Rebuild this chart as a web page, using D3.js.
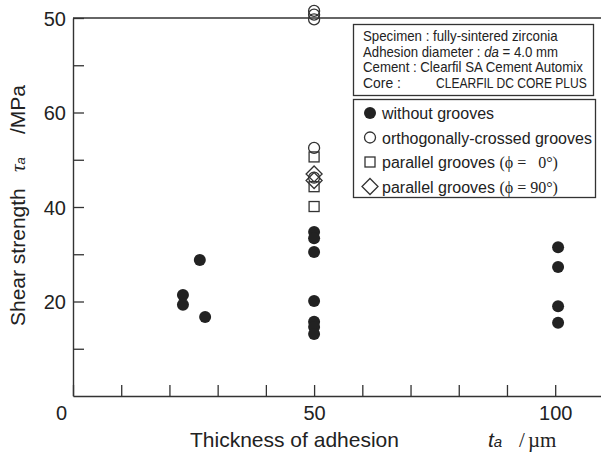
<!DOCTYPE html>
<html>
<head>
<meta charset="utf-8">
<script src="https://cdn.jsdelivr.net/npm/d3@7"></script>
<style>
  body { margin: 0; background: #fff; }
  svg { display: block; }
  .sans { font-family: "Liberation Sans", Arial, sans-serif; }
  .serif { font-family: "Liberation Serif", "Times New Roman", serif; }
</style>
</head>
<body>
<svg width="601" height="457"></svg>
<script>
// data: [thickness ta (um), shear strength (MPa)]
const withoutGrooves = [
    [22.8, 21.4], [22.8, 19.3], [26.3, 28.8], [27.4, 16.7],
    [50, 34.7], [50, 33.4], [50, 30.5], [50, 20.1], [50, 15.7], [50, 14.6], [50, 13.1],
    [100.6, 31.5], [100.6, 27.3], [100.6, 19.0], [100.6, 15.5]
];
const crossedGrooves = [[50, 81.5], [50, 80.7], [50, 79.7], [50, 52.5], [50, 46.2]];
const parallel0 = [[50, 50.6], [50, 44.3], [50, 40.1]];
const parallel90 = [[50, 47.0], [50, 45.6]];

const xTicks = [0, 10, 20, 30, 40, 50, 60, 70, 80, 90, 100];
const xTickLabels = { 0: "0", 50: "50", 100: "100" };
const yTicks = [10, 20, 30, 40, 50, 60, 70, 80];
const yTickLabels = { 20: "20", 40: "40", 60: "60", 80: "50" }; // top label printed as "50"

// testo del riquadro: [testo, x, larghezza]  ("|" racchiude il corsivo)
const infoLines = [
    ["Specimen : fully-sintered zirconia", 363, 195],
    ["Adhesion diameter : |da| = 4.0 mm", 363, 195],
    ["Cement : Clearfil SA Cement Automix", 363, 220],
    ["Core :", 363, 38],
    ["CLEARFIL DC CORE PLUS", 436, 151]
];
const infoRow = [0, 1, 2, 3, 3];

const svg = d3.select("svg");
const ink = "#333";

const x = d3.scaleLinear().domain([0, 109.5]).range([73, 601]);
const y = d3.scaleLinear().domain([0, 80]).range([396, 18]);

// assi
const xAxis = svg.append("g")
    .attr("transform", `translate(0, ${y(0)})`)
    .call(d3.axisBottom(x).tickValues(xTicks).tickSizeInner(-11).tickSizeOuter(0).tickPadding(10)
        .tickFormat(d => xTickLabels[d] || ""));
xAxis.selectAll("text").filter(d => d === 0).attr("dx", -12);

const yAxis = svg.append("g")
    .attr("transform", `translate(${x(0)}, 0)`)
    .call(d3.axisLeft(y).tickValues(yTicks).tickSizeInner(-11).tickSizeOuter(0).tickPadding(7)
        .tickFormat(d => yTickLabels[d] || ""));

[xAxis, yAxis].forEach(g => {
    g.select(".domain").attr("stroke", ink).attr("stroke-width", 1.4);
    g.selectAll(".tick line").attr("stroke", ink).attr("stroke-width", 1.3);
    g.selectAll("text").attr("class", "sans").attr("font-size", 20).attr("fill", "#222");
});
yAxis.selectAll("text").attr("dy", "0.36em");

// bordo superiore
svg.append("line")
    .attr("x1", x(0)).attr("x2", 601)
    .attr("y1", y(80)).attr("y2", y(80))
    .attr("stroke", ink).attr("stroke-width", 1.4);

// titoli assi
const xt = svg.append("text").attr("y", 447).attr("font-size", 21).attr("fill", "#222");
xt.append("tspan").attr("class", "sans").attr("x", 190).text("Thickness of adhesion");
xt.append("tspan").attr("class", "sans").attr("x", 488).attr("font-style", "italic").text("t");
xt.append("tspan").attr("class", "sans").attr("font-style", "italic").attr("font-size", 15).text("a");
xt.append("tspan").attr("class", "serif").attr("x", 519).text("/");
xt.append("tspan").attr("class", "serif").attr("x", 528).text("\u00b5m");

const yt = svg.append("text").attr("transform", "rotate(-90)").attr("y", 25)
    .attr("font-size", 21).attr("fill", "#222");
yt.append("tspan").attr("class", "sans").attr("x", -326).text("Shear strength");
yt.append("tspan").attr("class", "serif").attr("x", -172).attr("font-style", "italic").text("\u03c4");
yt.append("tspan").attr("class", "sans").attr("font-style", "italic").attr("font-size", 13).text("a");
yt.append("tspan").attr("class", "sans").attr("x", -134).text("/MPa");

// marker
function drawMarker(g, kind, cx, cy) {
    if (kind === "filled") {
        g.append("circle").attr("cx", cx).attr("cy", cy).attr("r", 6).attr("fill", "#222");
    } else if (kind === "circle") {
        g.append("circle").attr("cx", cx).attr("cy", cy).attr("r", 5.5)
            .attr("fill", "none").attr("stroke", ink).attr("stroke-width", 1.3);
    } else if (kind === "square") {
        g.append("rect").attr("x", cx - 5).attr("y", cy - 5).attr("width", 10).attr("height", 10)
            .attr("fill", "none").attr("stroke", ink).attr("stroke-width", 1.3);
    } else if (kind === "diamond") {
        g.append("path")
            .attr("d", `M${cx},${cy - 8}L${cx + 8},${cy}L${cx},${cy + 8}L${cx - 8},${cy}Z`)
            .attr("fill", "none").attr("stroke", ink).attr("stroke-width", 1.3);
    }
}

const pts = svg.append("g");
[[withoutGrooves, "filled"], [parallel0, "square"], [parallel90, "diamond"], [crossedGrooves, "circle"]]
    .forEach(([data, kind]) => data.forEach(d => drawMarker(pts, kind, x(d[0]), y(d[1]))));

// riquadro info
svg.append("rect").attr("x", 353.5).attr("y", 24.5).attr("width", 240).attr("height", 71)
    .attr("fill", "#fff").attr("stroke", ink).attr("stroke-width", 1.3);
infoLines.forEach(([line, lx, len], i) => {
    const t = svg.append("text").attr("class", "sans").attr("x", 0).attr("y", 0)
        .attr("font-size", 14).attr("fill", "#222");
    line.split("|").forEach((part, j) => {
        t.append("tspan").attr("font-style", j === 1 ? "italic" : null).text(part);
    });
    // adatta la larghezza a quella del riferimento
    const w = t.node().getComputedTextLength() || len;
    t.attr("transform", `translate(${lx}, ${41 + infoRow[i] * 15.7}) scale(${len / w}, 1)`);
});

// legenda
svg.append("rect").attr("x", 353.5).attr("y", 99.5).attr("width", 242).attr("height", 98)
    .attr("fill", "#fff").attr("stroke", ink).attr("stroke-width", 1.3);

const legendRows = [
    { kind: "filled", label: "without grooves" },
    { kind: "circle", label: "orthogonally-crossed grooves" },
    { kind: "square", label: "parallel grooves ", phi: "(\u03d5 = \u20020\u00b0)" },
    { kind: "diamond", label: "parallel grooves ", phi: "(\u03d5 = 90\u00b0)" }
];
legendRows.forEach((row, i) => {
    const cy = 113 + i * 24.5;
    drawMarker(svg, row.kind, 370, cy);
    const t = svg.append("text").attr("x", 382).attr("y", cy + 6).attr("font-size", 16).attr("fill", "#222");
    t.append("tspan").attr("class", "sans").text(row.label);
    if (row.phi) t.append("tspan").attr("class", "serif").text(row.phi);
});
</script>
</body>
</html>
